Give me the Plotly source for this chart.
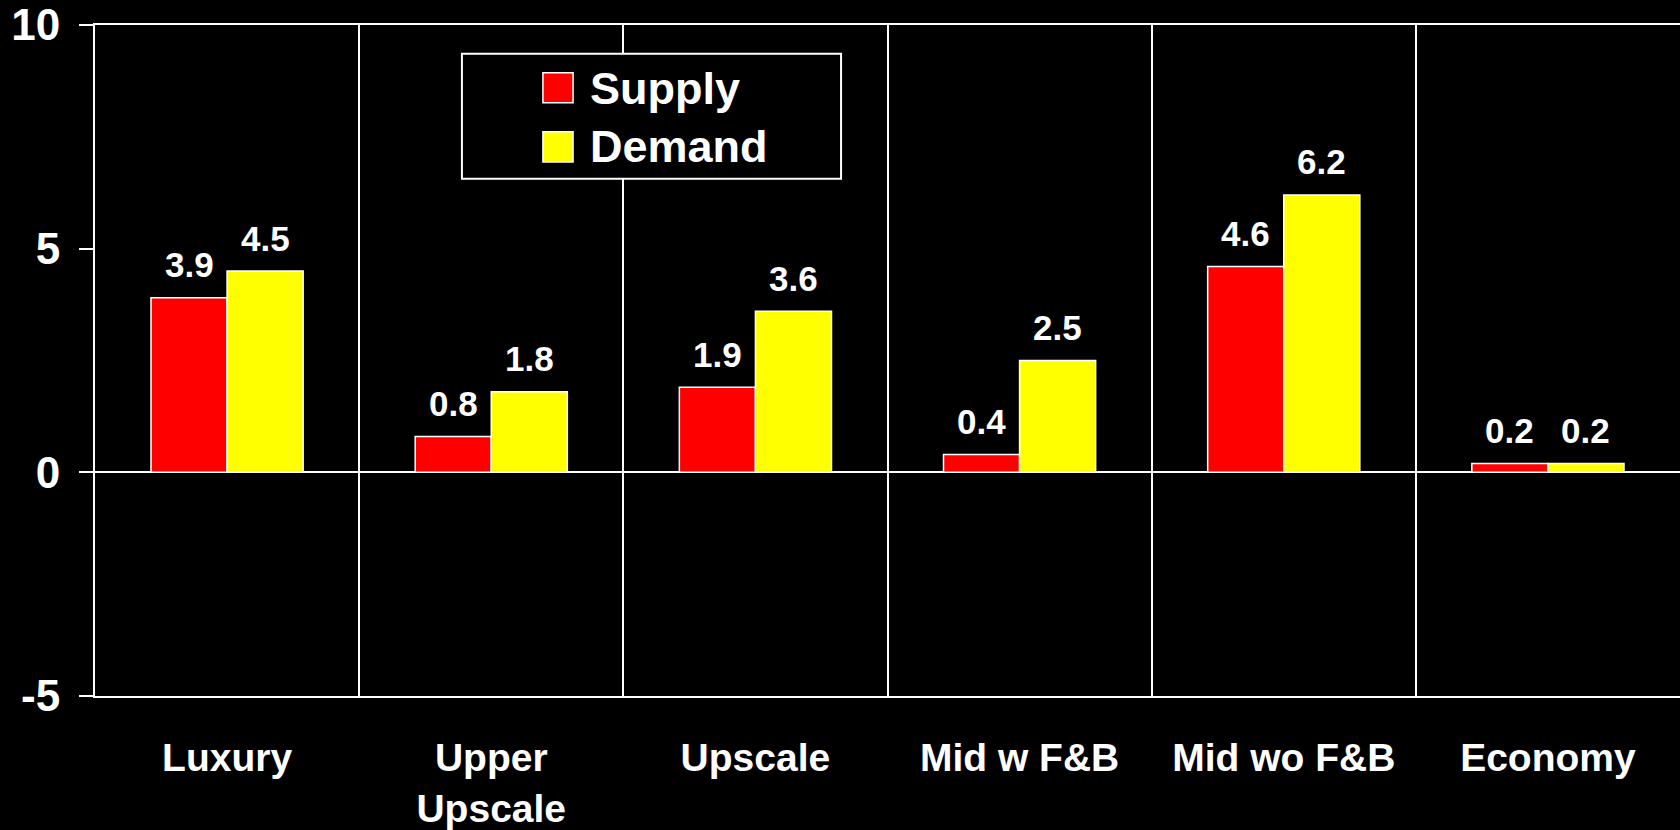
import plotly.graph_objects as go

categories = ["Luxury", "Upper<br>Upscale", "Upscale", "Mid w F&B", "Mid wo F&B", "Economy"]
supply = [3.9, 0.8, 1.9, 0.4, 4.6, 0.2]
demand = [4.5, 1.8, 3.6, 2.5, 6.2, 0.2]
series_names = ["Supply", "Demand"]
series_colors = ["#ff0000", "#ffff00"]
y_ticks = [-5, 0, 5, 10]

FONT = "Arial, Liberation Sans, sans-serif"
BARGAP = 0.424
# half a bar width in px: category width 264 px, two bars per group
HALF_BAR = 264 * (1 - BARGAP) / 4

fig = go.Figure()
for name, vals, color in zip(series_names, [supply, demand], series_colors):
    fig.add_trace(go.Bar(
        name=name,
        x=categories, y=vals,
        marker=dict(color=color, line=dict(color="white", width=1.5)),
        showlegend=False,
    ))

# value labels sit well above the bars in the original
for vals, side in zip([supply, demand], [-1, 1]):
    for cat, v in zip(categories, vals):
        fig.add_annotation(x=cat, y=v, xshift=side * HALF_BAR, yshift=33,
                           yanchor="middle", showarrow=False,
                           text=f"<b>{v:.1f}</b>",
                           font=dict(family=FONT, size=35, color="white"))

# hand-drawn legend box (big swatches like the original)
legend_rows = [(0.929, 0.884, 0.906), (0.841, 0.796, 0.819)]
fig.add_shape(type="rect", xref="paper", yref="paper",
              x0=0.2315, x1=0.4707, y0=0.771, y1=0.957,
              fillcolor="black", line=dict(color="white", width=2), layer="above")
for (top, bot, mid), name, color in zip(legend_rows, series_names, series_colors):
    fig.add_shape(type="rect", xref="paper", yref="paper",
                  x0=0.2826, x1=0.3016, y0=bot, y1=top,
                  fillcolor=color, line=dict(color="white", width=1.5), layer="above")
    fig.add_annotation(xref="paper", yref="paper", x=0.311, y=mid,
                       xanchor="left", yanchor="middle", showarrow=False,
                       text=f"<b>{name}</b>",
                       font=dict(family=FONT, size=45, color="white"))

fig.update_layout(
    width=1680, height=830,
    barmode="group",
    bargap=BARGAP,
    bargroupgap=0,
    plot_bgcolor="black",
    paper_bgcolor="black",
    margin=dict(l=95, r=0, t=25, b=132),
    font=dict(family=FONT, color="white"),
    xaxis=dict(
        tickson="boundaries",
        showgrid=True, gridcolor="white", gridwidth=2,
        ticks="",
        showline=True, linecolor="white", linewidth=2, mirror=True,
        tickfont=dict(family=FONT, size=39, color="white"),
        ticklabelstandoff=26,
    ),
    yaxis=dict(
        range=[-5, 10],
        tickvals=y_ticks,
        ticktext=[f"<b>{v}</b>" for v in y_ticks],
        showgrid=False,
        zeroline=True, zerolinecolor="white", zerolinewidth=2,
        showline=True, linecolor="white", linewidth=2,
        ticks="outside", ticklen=14, tickwidth=2, tickcolor="white",
        tickfont=dict(family=FONT, size=44, color="white"),
        ticklabelstandoff=10,
    ),
)
fig.update_xaxes(tickvals=categories, ticktext=[f"<b>{c}</b>" for c in categories])

fig.write_html("out.html", config={"displayModeBar": False},
               post_script="document.body.style.margin='0';")
